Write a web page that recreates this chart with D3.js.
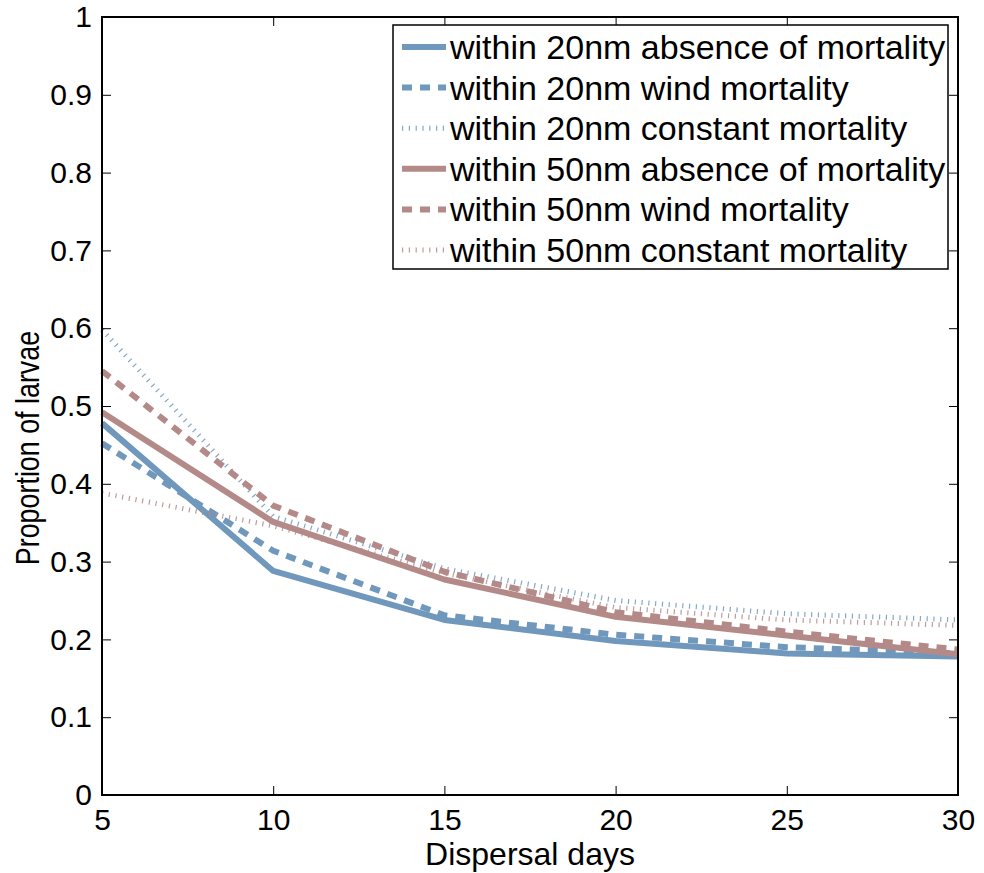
<!DOCTYPE html>
<html>
<head>
<meta charset="utf-8">
<script src="https://cdn.jsdelivr.net/npm/d3@7"></script>
<style>
  body { margin: 0; background: #fff; }
  svg { display: block; font-family: "Liberation Sans", Arial, Helvetica, sans-serif; }
</style>
</head>
<body>
<svg id="chart" width="984" height="873"></svg>
<script>
// dispersal days on the x axis
let days = [5, 10, 15, 20, 25, 30];

// proportion of larvae
let blueAbsence  = [0.478, 0.288, 0.225, 0.198, 0.182, 0.178];
let blueWind     = [0.452, 0.314, 0.231, 0.206, 0.190, 0.182];
let blueConstant = [0.598, 0.358, 0.291, 0.250, 0.233, 0.225];
let brownAbsence  = [0.492, 0.351, 0.277, 0.229, 0.205, 0.181];
let brownWind     = [0.545, 0.372, 0.287, 0.235, 0.210, 0.187];
let brownConstant = [0.388, 0.346, 0.285, 0.241, 0.225, 0.218];

let seriesNames = [
  'within 20nm absence of mortality',
  'within 20nm wind mortality',
  'within 20nm constant mortality',
  'within 50nm absence of mortality',
  'within 50nm wind mortality',
  'within 50nm constant mortality'
];
let xTicks = [5, 10, 15, 20, 25, 30];
let yTicks = [0, 0.1, 0.2, 0.3, 0.4, 0.5, 0.6, 0.7, 0.8, 0.9, 1];

let blue = '#7097bc';
let brown = '#b48a89';

// line styles: solid, dashed, dotted (matlab's dotted comes out as little ticks)
let styles = [
  { width: 6, dash: null, opacity: 1 },
  { width: 6, dash: '10,8', opacity: 1 },
  { width: 5, dash: '1.2,5.6', opacity: 0.85 }
];

let series = [
  { name: seriesNames[0], values: blueAbsence,  color: blue,  style: styles[0] },
  { name: seriesNames[1], values: blueWind,     color: blue,  style: styles[1] },
  { name: seriesNames[2], values: blueConstant, color: blue,  style: styles[2] },
  { name: seriesNames[3], values: brownAbsence,  color: brown, style: styles[0] },
  { name: seriesNames[4], values: brownWind,     color: brown, style: styles[1] },
  { name: seriesNames[5], values: brownConstant, color: brown, style: styles[2] }
];

let chart = d3.select('#chart');
let plotLeft = 102, plotRight = 958, plotTop = 17, plotBottom = 795;

let x = d3.scaleLinear().domain([5, 30]).range([plotLeft, plotRight]);
let y = d3.scaleLinear().domain([0, 1]).range([plotBottom, plotTop]);

let line = d3.line()
  .x((d, i) => x(days[i]))
  .y(d => y(d));

// lines
let plot = chart.append('g');
series.forEach(s => {
  plot.append('path')
    .datum(s.values)
    .attr('d', line)
    .attr('fill', 'none')
    .attr('stroke', s.color)
    .attr('stroke-width', s.style.width)
    .attr('stroke-dasharray', s.style.dash)
    .attr('stroke-opacity', s.style.opacity)
    .attr('stroke-linejoin', 'round');
});

// axes, ticks pointing inwards like matlab
let tickLen = 9;
chart.append('g')
  .attr('transform', `translate(0,${plotBottom})`)
  .call(d3.axisBottom(x).tickValues(xTicks).tickSizeInner(-tickLen).tickSizeOuter(0).tickPadding(14));
chart.append('g')
  .attr('transform', `translate(0,${plotTop})`)
  .call(d3.axisTop(x).tickValues(xTicks).tickSizeInner(-tickLen).tickSizeOuter(0).tickFormat(''));
chart.append('g')
  .attr('transform', `translate(${plotLeft},0)`)
  .call(d3.axisLeft(y).tickValues(yTicks).tickSizeInner(-tickLen).tickSizeOuter(0).tickPadding(10).tickFormat(d => d));
chart.append('g')
  .attr('transform', `translate(${plotRight},0)`)
  .call(d3.axisRight(y).tickValues(yTicks).tickSizeInner(-tickLen).tickSizeOuter(0).tickFormat(''));

chart.selectAll('.domain').remove();
chart.selectAll('.tick line').attr('stroke', '#000').attr('stroke-width', 1);
chart.selectAll('.tick text').attr('font-size', 30).attr('fill', '#000')
  .attr('font-family', '"Liberation Sans", Arial, sans-serif');

chart.append('rect')
  .attr('x', plotLeft).attr('y', plotTop)
  .attr('width', plotRight - plotLeft).attr('height', plotBottom - plotTop)
  .attr('fill', 'none').attr('stroke', '#000').attr('stroke-width', 2);

// axis labels
chart.append('text')
  .attr('x', (plotLeft + plotRight) / 2).attr('y', 865)
  .attr('text-anchor', 'middle').attr('font-size', 32)
  .text('Dispersal days');

chart.append('text')
  .attr('transform', 'translate(39,448) rotate(-90) scale(0.79,1)')
  .attr('text-anchor', 'middle').attr('font-size', 34)
  .text('Proportion of larvae');

// legend
let legend = chart.append('g');
let lgX = 393, lgY = 25, lgW = 555, lgH = 244, rowH = 40.6;
legend.append('rect')
  .attr('x', lgX).attr('y', lgY).attr('width', lgW).attr('height', lgH)
  .attr('fill', '#fff').attr('stroke', '#000').attr('stroke-width', 1.5);

series.forEach((s, i) => {
  let cy = lgY + 22 + i * rowH;
  legend.append('line')
    .attr('x1', lgX + 9).attr('x2', lgX + 53)
    .attr('y1', cy).attr('y2', cy)
    .attr('stroke', s.color)
    .attr('stroke-width', s.style.width)
    .attr('stroke-dasharray', s.style.dash)
    .attr('stroke-opacity', s.style.opacity);
  legend.append('text')
    .attr('x', lgX + 57).attr('y', cy + 12)
    .attr('font-size', 34)
    .text(s.name);
});
</script>
</body>
</html>
